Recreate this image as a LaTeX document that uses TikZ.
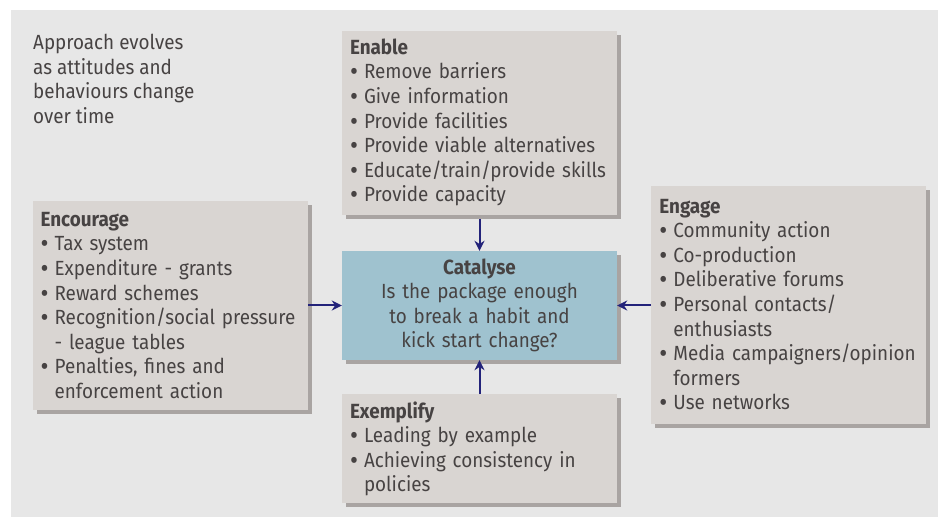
\documentclass[tikz,border=0pt]{standalone}
\usepackage{fontspec}
\setmainfont{Fira Sans}[FakeStretch=0.92]
\usepackage{xcolor}
\usepackage{tikz}
\usetikzlibrary{positioning, arrows.meta, shadows}

\definecolor{panelgrey}{HTML}{E7E7E7}
\definecolor{boxgrey}{HTML}{D9D5D2}
\definecolor{shadowgrey}{HTML}{A9A4A2}
\definecolor{catblue}{HTML}{9FC2CF}
\definecolor{arrownavy}{HTML}{23237A}
\definecolor{textgrey}{HTML}{474343}

\newcommand\boxfont{\fontsize{20.5}{24.6}\selectfont\hyphenpenalty=10000\relax}
\newcommand\listfont{\boxfont\leftskip=2pt\relax}
\newcommand\bitem{\par\hangindent=14pt\hangafter=1\noindent\makebox[14pt][l]{\raisebox{-2pt}{\scalebox{1.3}{\textbullet}}}}

\begin{document}
\begin{tikzpicture}[
    x=1pt, y=1pt,
    node distance=34pt,
    box/.style={rectangle, fill=boxgrey, text=textgrey, text width=259pt, inner xsep=8pt, inner ysep=0pt,
        align=left, font=\listfont,
        general shadow={fill=shadowgrey, shadow xshift=4pt, shadow yshift=-4pt}},
    arrow/.style={-{Stealth[length=10pt, width=10pt]}, draw=arrownavy, line width=2pt}
]
    % Panel
    \useasboundingbox (0,0) rectangle (938,517);
    \fill[panelgrey] (11,0) rectangle (938,507);

    % Nodes
    \node[box, fill=catblue, align=center, minimum height=109pt, font=\boxfont] (catalyse) at (479.5,211.5)
        {{\bfseries Catalyse}\\Is the package enough\\to break a habit and\\kick start change?};
    \node[box, minimum height=184pt, above=36pt of catalyse] (enable)
        {{\bfseries Enable}
         \bitem Remove barriers
         \bitem Give information
         \bitem Provide facilities
         \bitem Provide viable alternatives
         \bitem Educate/train/provide skills
         \bitem Provide capacity\par};
    \node[box, minimum height=109pt, below=34pt of catalyse] (exemplify)
        {{\bfseries Exemplify}
         \bitem Leading by example
         \bitem Achieving consistency in\newline policies\par};
    \node[box, minimum height=209pt, left=of catalyse] (encourage)
        {{\bfseries Encourage}
         \bitem Tax system
         \bitem Expenditure - grants
         \bitem Reward schemes
         \bitem Recognition/social pressure\newline - league tables
         \bitem Penalties, fines and\newline enforcement action\par};
    \node[box, minimum height=238pt, right=of catalyse] (engage)
        {{\bfseries Engage}
         \bitem Community action
         \bitem Co-production
         \bitem Deliberative forums
         \bitem Personal contacts/\newline enthusiasts
         \bitem Media campaigners/opinion\newline formers
         \bitem Use networks\par};

    % Note in the corner
    \node[anchor=north west, inner sep=0pt, text=textgrey, font=\boxfont, align=left] (note) at (33,483)
        {Approach evolves\\as attitudes and\\behaviours change\\over time};

    % Arrows
    \draw[arrow, shorten <=4pt] (enable) -- (catalyse);
    \draw[arrow] (exemplify) -- (catalyse);
    \draw[arrow] (encourage) -- (catalyse);
    \draw[arrow] (engage) -- (catalyse);
\end{tikzpicture}
\end{document}
